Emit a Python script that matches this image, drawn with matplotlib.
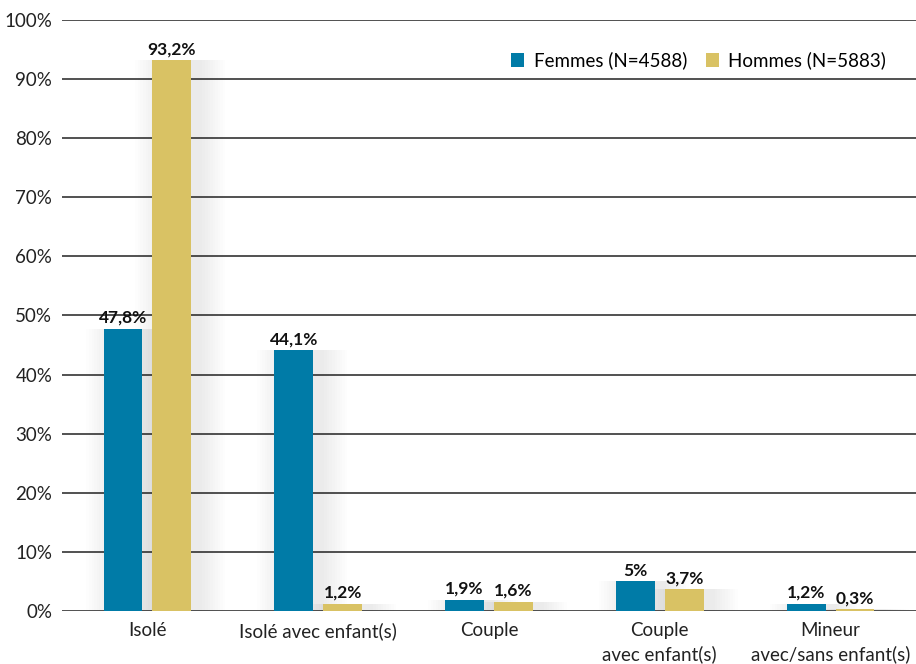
import matplotlib
matplotlib.use("Agg")
import matplotlib.pyplot as plt
import numpy as np

categories = ["Isolé", "Isolé avec enfant(s)", "Couple", "Couple\navec enfant(s)",
              "Mineur\navec/sans enfant(s)"]
femmes = [47.8, 44.1, 1.9, 5.0, 1.2]
hommes = [93.2, 1.2, 1.6, 3.7, 0.3]
femmes_labels = ["47,8%", "44,1%", "1,9%", "5%", "1,2%"]
hommes_labels = ["93,2%", "1,2%", "1,6%", "3,7%", "0,3%"]
series_names = ["Femmes (N=4588)", "Hommes (N=5883)"]

BLUE = "#007ba7"
GOLD = "#d9c264"

plt.rcParams["font.family"] = ["Lato", "DejaVu Sans"]

fig = plt.figure(figsize=(9.16, 6.64), dpi=100)
ax = fig.add_axes([0.0677, 0.0798, 0.9323, 0.8901])

x = np.arange(len(categories))
w = 0.228
off = 0.143

# faint soft shadow behind bars (under the gridlines)
for xs, vals in ((x - off, femmes), (x + off, hommes)):
    for k in range(10):
        grow = 0.015 * (k + 1)
        ax.bar(xs + 0.05, np.array(vals) + 0.4 * (k + 1), width=w + grow * 2,
               bottom=-0.4 * (k + 1), color="#000000", alpha=0.007, zorder=0.5,
               linewidth=0)

ax.bar(x - off, femmes, width=w, color=BLUE, zorder=3, label=series_names[0])
ax.bar(x + off, hommes, width=w, color=GOLD, zorder=3, label=series_names[1])

for xs, vals, labs in ((x - off, femmes, femmes_labels), (x + off, hommes, hommes_labels)):
    for xi, v, t in zip(xs, vals, labs):
        ax.text(xi, v + 0.5, t, ha="center", va="bottom", fontsize=12.5,
                fontweight="bold", color="#111111", zorder=4)

ax.set_xlim(-0.5, 4.5)
ax.set_ylim(0, 100)
ax.set_yticks(np.arange(0, 101, 10))
ax.set_yticklabels([f"{v}%" for v in range(0, 101, 10)])
ax.set_xticks(x)
ax.set_xticklabels(categories)
ax.tick_params(axis="both", length=0, labelsize=13.5, colors="#222222")
ax.tick_params(axis="y", pad=7)
ax.tick_params(axis="x", pad=8)
for lab in ax.get_xticklabels():
    lab.set_linespacing(1.4)
ax.set_axisbelow(False)
ax.yaxis.grid(True, color="#222222", linewidth=1.1, zorder=2)
for gl in ax.get_ygridlines():
    gl.set_zorder(2)
for s in ax.spines.values():
    s.set_visible(False)

ax.legend(loc="upper right", bbox_to_anchor=(0.985, 0.975), frameon=False,
          ncol=2, fontsize=13.5, handlelength=0.7, handleheight=0.7,
          handletextpad=0.5, columnspacing=1.0)

fig.savefig("out.png", dpi=100)
